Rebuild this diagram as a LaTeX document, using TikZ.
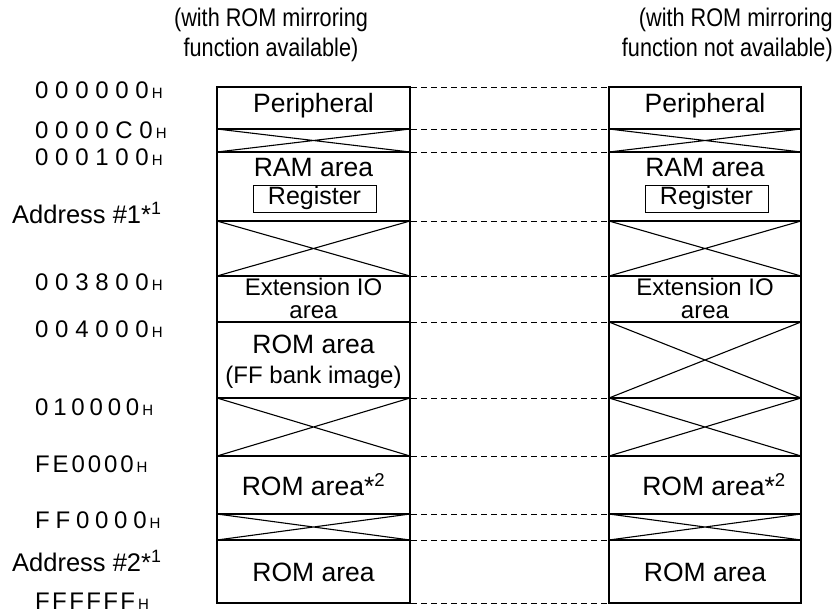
\documentclass[tikz,border=0pt]{standalone}
\usepackage{fontspec}
\setmainfont{Liberation Sans}
\newcommand\hexaddr[2]{{\addfontfeature{LetterSpace=#2}#1}\hspace{3pt}{\fontsize{15}{15}\selectfont H}}
\begin{document}
\begin{tikzpicture}[x=1pt,y=-1pt,
  outer/.style={line width=2.2pt},
  inner/.style={line width=1.1pt},
  guide/.style={line width=1pt, dash pattern=on 6pt off 4pt},
  lbl/.style={inner sep=0pt, font=\fontsize{26.5}{28}\selectfont},
  small/.style={inner sep=0pt, font=\fontsize{24}{23}\selectfont, align=center},
  regbox/.style={draw, line width=1pt, inner sep=0pt, minimum width=123pt, minimum height=27pt, font=\fontsize{25}{25}\selectfont},
  hex/.style={inner sep=0pt, anchor=west, font=\fontsize{24}{24}\selectfont},
  addr/.style={inner sep=0pt, anchor=west, font=\fontsize{25.5}{26}\selectfont},
  title/.style={inner sep=0pt, font=\fontsize{25.5}{30}\selectfont}]
\useasboundingbox (0,0) rectangle (835,614);

% titles
\node[title, align=center] (tl) at (271,35) {\scalebox{0.85}[1]{(with ROM mirroring}\\\scalebox{0.85}[1]{function available)}};
\node[title, align=right, anchor=east] (tr) at (833,35) {\scalebox{0.85}[1]{(with ROM mirroring}\\\scalebox{0.85}[1]{function not available)}};

% boundaries
\foreach \y [count=\i] in {87,129,152,221,276,322,398,456,514,540,603} {
  \coordinate (La\i) at (217,\y);
  \coordinate (Lb\i) at (410,\y);
  \coordinate (Ra\i) at (609,\y);
  \coordinate (Rb\i) at (801,\y);
}

% inner separators
\foreach \i in {2,...,10} {
  \draw[inner] (La\i) -- (Lb\i);
  \draw[inner] (Ra\i) -- (Rb\i);
}
% crosses
\foreach \i/\j in {2/3,4/5,7/8,9/10} {
  \draw[inner] (La\i) -- (Lb\j) (Lb\i) -- (La\j);
}
\foreach \i/\j in {2/3,4/5,6/7,7/8,9/10} {
  \draw[inner] (Ra\i) -- (Rb\j) (Rb\i) -- (Ra\j);
}
% outer frames
\draw[outer] (La1) rectangle (Lb11);
\draw[outer] (Ra1) rectangle (Rb11);

% dashed guides
\foreach \i in {1,...,11} {
  \draw[guide] ([xshift=1.1pt]Lb\i) -- ([xshift=-1.1pt]Ra\i);
}

% left box texts
\node[lbl] (lper) at (313.5,106) {Peripheral};
\node[lbl] (lram) at (313.5,168) {RAM area};
\node[regbox] (lreg) at (314.5,198.5) {Register};
\node[small] (lext) at (313.5,298) {Extension IO\\area};
\node[lbl] (lrom) at (313.5,344) {ROM area};
\node[inner sep=0pt, font=\fontsize{24}{24}\selectfont] (lff) at (313.5,377) {(FF bank image)};
\node[lbl] (lrom2) at (313.5,485) {ROM area*\textsuperscript{2}};
\node[lbl] (lrom3) at (313.5,572) {ROM area};

% right box texts
\node[lbl] (rper) at (705,106) {Peripheral};
\node[lbl] (rram) at (705,168) {RAM area};
\node[regbox] (rreg) at (706.5,198.5) {Register};
\node[small] (rext) at (705,298) {Extension IO\\area};
\node[lbl] (rrom2) at (714,485) {ROM area*\textsuperscript{2}};
\node[lbl] (rrom3) at (705,572) {ROM area};

% address labels
\node[hex] (a1) at (35,90) {\hexaddr{000000}{28}};
\node[hex] (a2) at (35,130) {\hexaddr{0000C0}{28}};
\node[hex] (a3) at (35,157) {\hexaddr{000100}{28}};
\node[addr] (a4) at (12,213) {Address \#1*\textsuperscript{1}};
\node[hex] (a5) at (35,282) {\hexaddr{003800}{28}};
\node[hex] (a6) at (35,329) {\hexaddr{004000}{28}};
\node[hex] (a7) at (35,407) {\hexaddr{010000}{20}};
\node[hex] (a8) at (35,464) {\hexaddr{FE0000}{12}};
\node[hex] (a9) at (35,520) {\hexaddr{FF0000}{24}};
\node[addr] (a10) at (12,561) {Address \#2*\textsuperscript{1}};
\node[hex] (a11) at (35,601) {\hexaddr{FFFFFF}{10}};
\end{tikzpicture}
\end{document}
